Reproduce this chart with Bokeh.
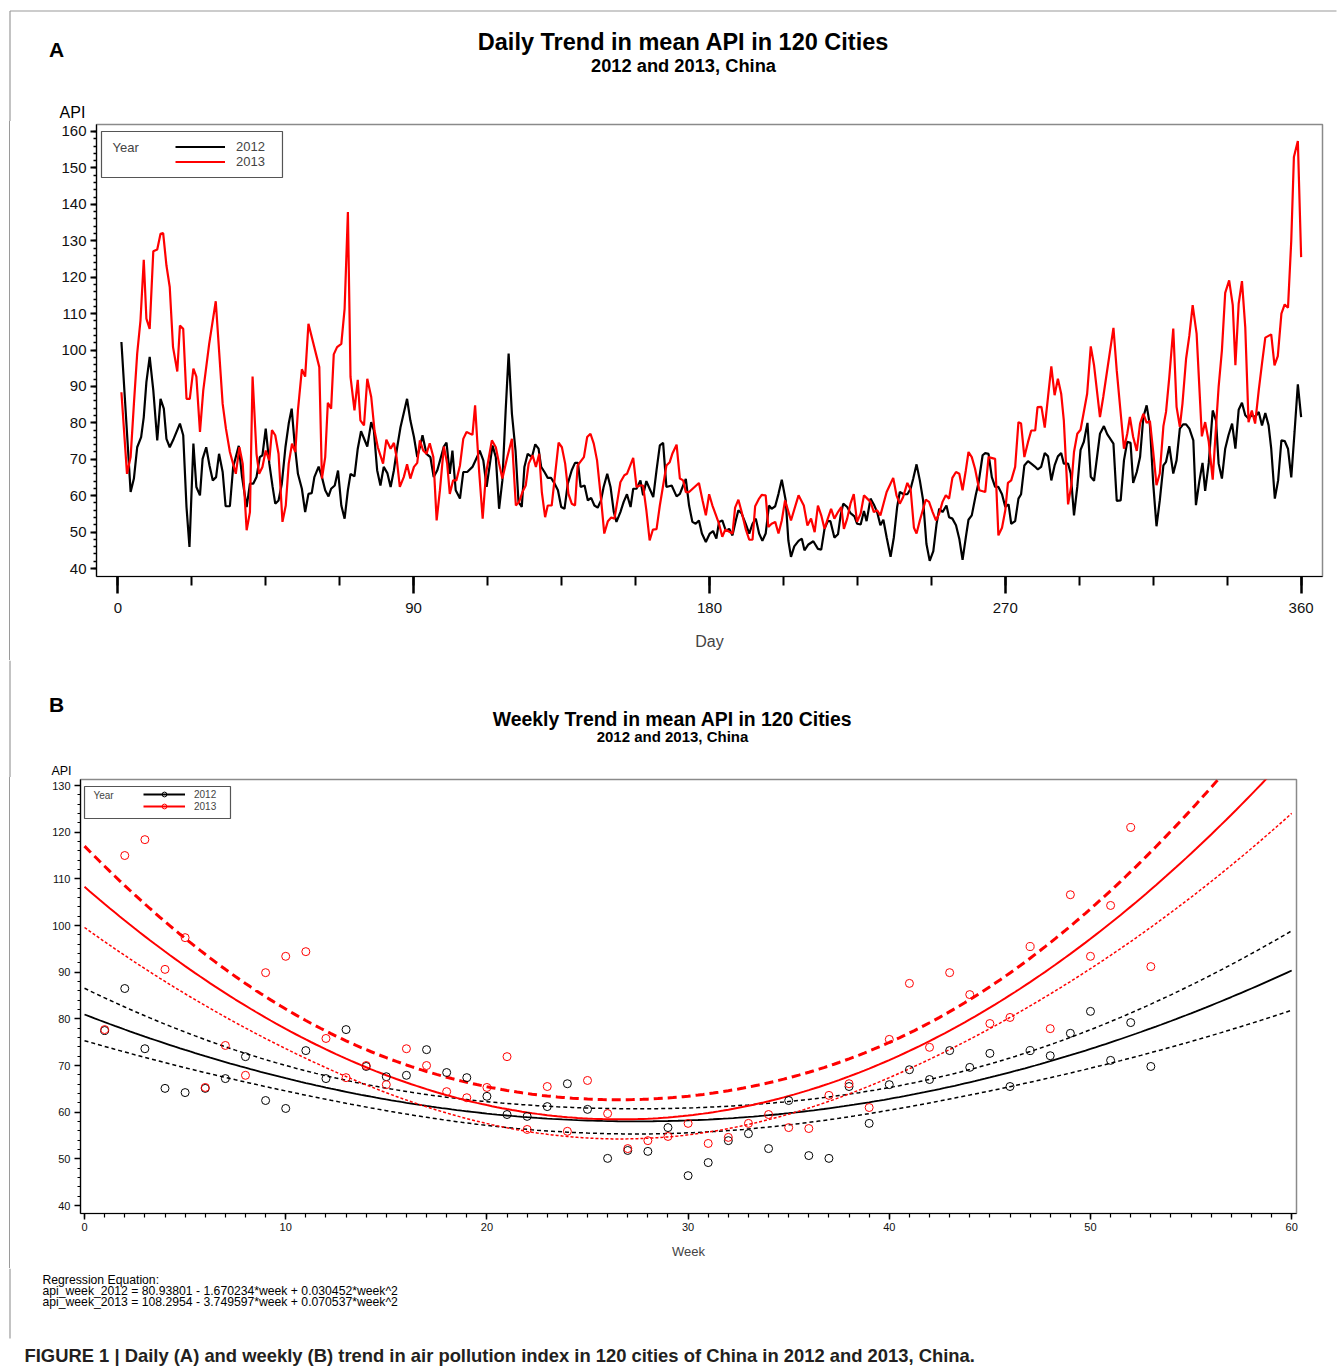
import numpy as np
from bokeh.plotting import figure
from bokeh.models import Range1d, FixedTicker, Label, Legend, LegendItem, BoxAnnotation
from bokeh.embed import file_html
from bokeh.resources import INLINE

FONT = "Liberation Sans"
FRAME_GRAY = "#9a9a9a"

# ---------------- Panel A data: daily mean API ----------------
day_2012 = [1.1, 3.9, 4.9, 5.9, 7.1, 7.9, 8.7, 9.7, 10.8, 12.0, 13.0, 14.0, 14.8, 15.8, 16.8, 18.9, 19.9, 20.9, 21.8, 23.0,
            23.9, 25.0, 25.8, 26.9, 27.9, 28.9, 29.9, 30.8, 31.9, 32.8, 34.1, 35.1, 36.8, 37.8, 39.2, 40.2, 41.2, 42.2, 43.2, 44.0,
            45.0, 46.1, 47.1, 47.9, 48.9, 49.9, 51.0, 52.0, 52.9, 53.8, 54.8, 56.0, 57.0, 58.0, 59.0, 59.8, 61.1, 62.1, 63.1, 64.1,
            64.9, 66.0, 67.0, 68.0, 69.0, 70.0, 70.8, 72.0, 73.0, 74.0, 75.9, 77.1, 77.9, 78.9, 79.9, 80.9, 82.0, 83.0, 84.0, 85.0,
            86.0, 88.0, 89.0, 90.1, 91.1, 91.9, 92.7, 93.9, 95.1, 96.1, 97.2, 99.2, 100.0, 101.0, 101.8, 102.8, 104.1, 105.1, 106.3, 107.9,
            109.3, 110.1, 111.2, 112.2, 114.0, 115.0, 116.0, 117.0, 118.0, 118.9, 119.9, 121.0, 121.9, 122.9, 123.7, 124.7, 126.0, 127.0, 128.0, 128.8,
            129.8, 130.8, 131.8, 132.9, 133.9, 134.9, 135.9, 136.9, 138.1, 139.1, 140.0, 140.8, 142.0, 143.0, 144.0, 145.0, 146.0, 147.0, 147.8, 148.9,
            149.9, 150.9, 151.7, 152.9, 153.9, 154.9, 156.0, 156.8, 157.8, 159.0, 159.8, 160.8, 161.8, 162.9, 163.9, 164.9, 165.9, 166.9, 168.5, 170.0,
            171.0, 172.0, 172.8, 173.8, 174.8, 175.8, 176.8, 177.7, 178.9, 180.1, 181.1, 182.1, 182.9, 183.9, 185.0, 186.0, 187.0, 188.0, 188.8, 189.8,
            191.0, 192.1, 193.1, 194.1, 195.1, 196.1, 197.1, 198.1, 198.9, 200.0, 201.0, 202.0, 203.2, 204.0, 204.8, 205.8, 207.1, 208.1, 208.9, 210.1,
            211.6, 213.0, 214.0, 215.0, 216.0, 216.8, 218.0, 219.1, 219.9, 220.7, 221.9, 222.9, 224.1, 224.9, 226.0, 227.0, 227.8, 229.0, 230.0, 231.0,
            232.0, 232.9, 233.9, 235.1, 236.1, 237.1, 237.9, 239.1, 240.2, 241.2, 242.0, 243.0, 244.0, 245.0, 246.0, 247.0, 248.1, 249.1, 249.9, 250.9,
            252.1, 252.9, 253.9, 255.0, 256.0, 257.0, 258.0, 258.8, 259.8, 261.0, 261.9, 263.1, 263.9, 264.9, 265.9, 266.9, 267.9, 269.0, 270.0, 271.0,
            271.8, 273.0, 274.0, 274.8, 275.8, 276.9, 277.9, 279.0, 279.9, 280.9, 282.0, 283.0, 284.0, 285.0, 286.0, 287.0, 287.8, 289.1, 289.9, 290.9,
            291.9, 292.9, 293.9, 295.0, 296.0, 297.0, 298.8, 300.0, 301.0, 302.9, 303.9, 305.1, 306.1, 307.1, 308.1, 308.9, 310.0, 311.0, 312.0, 313.0,
            314.0, 315.0, 316.0, 317.0, 318.1, 318.9, 319.9, 321.1, 322.1, 323.1, 324.1, 325.0, 326.0, 327.2, 328.0, 329.0, 330.0, 330.8, 331.9, 333.1,
            334.1, 334.9, 335.9, 336.9, 337.9, 339.0, 340.0, 341.0, 342.0, 343.0, 344.0, 345.0, 346.0, 347.1, 348.1, 349.1, 350.1, 350.9, 352.0, 353.0,
            354.0, 355.0, 356.0, 357.0, 358.0, 359.0, 360.0]
api_2012 = [102.2, 61.0, 64.7, 73.3, 76.1, 81.6, 91.2, 98.1, 88.9, 75.2, 86.6, 83.9, 75.6, 73.3, 75.2, 79.8, 76.6, 56.9, 45.9, 74.3,
            62.4, 60.1, 70.1, 73.3, 68.3, 64.2, 65.1, 71.5, 66.5, 57.1, 57.1, 67.9, 73.7, 65.1, 56.9, 63.3, 63.3, 65.1, 70.6, 71.1,
            78.4, 68.8, 62.4, 57.8, 58.7, 63.3, 73.3, 79.8, 83.9, 74.3, 66.0, 61.9, 55.5, 60.5, 60.7, 65.1, 68.0, 65.1, 61.5, 59.8,
            61.9, 62.8, 66.9, 57.3, 53.7, 61.5, 66.0, 65.3, 72.9, 77.7, 73.5, 80.2, 77.9, 67.0, 62.8, 67.9, 66.2, 62.4, 67.0, 73.3,
            78.8, 86.6, 80.7, 76.1, 70.6, 73.3, 76.6, 71.5, 70.6, 65.1, 67.0, 73.5, 74.6, 66.0, 72.4, 61.5, 59.2, 66.5, 66.5, 67.9,
            70.6, 72.4, 69.7, 62.4, 73.8, 70.6, 56.4, 64.2, 83.4, 99.0, 82.5, 72.4, 58.3, 56.9, 67.9, 71.5, 70.6, 74.1, 72.9, 67.9,
            66.5, 64.9, 64.9, 63.3, 61.5, 56.9, 56.4, 63.3, 67.0, 69.0, 69.0, 62.4, 62.8, 58.7, 59.4, 57.3, 56.7, 58.7, 62.4, 66.0,
            62.4, 55.5, 52.8, 55.5, 58.3, 60.4, 56.9, 61.9, 61.9, 64.2, 60.1, 64.0, 61.9, 59.6, 67.0, 73.8, 74.5, 62.4, 62.8, 59.8,
            60.5, 62.8, 64.6, 57.3, 52.8, 52.3, 53.2, 49.6, 47.3, 49.6, 50.3, 48.2, 52.8, 53.2, 50.3, 50.9, 49.1, 53.2, 56.0, 55.1,
            52.3, 49.6, 52.3, 53.7, 49.6, 47.6, 49.6, 57.3, 56.4, 57.1, 60.5, 64.4, 58.7, 47.7, 43.2, 46.1, 47.6, 48.2, 45.0, 46.6,
            47.5, 45.4, 45.2, 50.9, 53.0, 53.0, 48.5, 49.4, 54.6, 57.8, 56.9, 55.2, 54.3, 52.3, 52.1, 55.8, 53.0, 59.2, 57.6, 55.5,
            51.9, 53.4, 48.6, 43.2, 48.6, 56.9, 61.0, 60.4, 60.4, 61.9, 64.7, 68.6, 64.2, 58.7, 46.8, 42.1, 44.8, 52.3, 56.4, 55.5,
            57.3, 54.1, 53.7, 51.9, 48.2, 42.4, 48.6, 53.4, 54.6, 60.1, 63.7, 71.1, 71.7, 71.5, 65.1, 62.4, 62.4, 60.4, 56.9, 57.6,
            52.3, 53.0, 59.2, 60.4, 68.3, 69.5, 68.8, 68.0, 67.2, 67.9, 71.7, 70.8, 64.2, 68.3, 70.8, 71.7, 68.8, 68.8, 66.1, 54.6,
            62.4, 72.6, 74.8, 80.0, 65.2, 64.1, 77.0, 79.1, 76.9, 74.3, 58.6, 58.7, 69.7, 74.8, 74.5, 63.5, 66.5, 70.6, 81.6, 84.8,
            79.3, 63.3, 51.6, 58.7, 68.3, 69.3, 73.6, 66.1, 69.7, 78.4, 79.6, 79.6, 78.4, 75.2, 57.4, 63.8, 69.0, 61.3, 69.0, 83.4,
            80.7, 68.8, 64.7, 72.9, 76.6, 79.8, 72.9, 83.6, 85.5, 82.1, 81.2, 82.1, 81.6, 83.0, 79.3, 82.7, 79.3, 72.9, 59.2, 64.2,
            75.2, 75.0, 72.9, 65.0, 77.5, 90.6, 81.6]

day_2013 = [1.1, 2.8, 3.9, 4.9, 5.9, 6.9, 7.9, 8.7, 9.7, 10.8, 12.0, 13.0, 13.8, 14.8, 15.8, 16.8, 18.1, 18.9, 19.9, 20.9,
            21.9, 23.0, 23.9, 25.0, 26.0, 27.8, 29.8, 31.9, 32.9, 34.1, 35.9, 37.0, 38.0, 39.2, 40.2, 41.0, 42.2, 43.0, 44.0, 45.0,
            46.1, 46.9, 47.9, 48.9, 50.1, 51.1, 52.0, 53.0, 54.0, 54.8, 56.0, 57.0, 58.0, 61.3, 62.1, 63.1, 63.9, 64.9, 65.7, 66.7,
            68.0, 69.0, 70.0, 70.8, 72.0, 73.0, 73.8, 74.9, 75.9, 77.1, 78.1, 79.1, 80.7, 81.7, 83.0, 84.0, 84.8, 85.8, 87.0, 88.0,
            89.0, 90.1, 91.1, 91.9, 92.9, 93.9, 94.9, 96.0, 97.0, 98.0, 99.2, 100.2, 101.0, 102.0, 103.0, 104.1, 105.1, 106.1, 107.9, 108.7,
            109.9, 111.0, 112.0, 113.8, 115.0, 116.0, 117.0, 118.5, 119.9, 121.1, 122.1, 123.1, 124.1, 125.0, 126.2, 127.2, 128.2, 129.0, 130.0, 130.8,
            132.0, 134.1, 135.1, 136.1, 137.1, 138.1, 139.1, 139.9, 141.8, 142.8, 143.8, 144.8, 145.8, 147.0, 148.0, 149.1, 150.1, 151.1, 152.1, 152.9,
            154.1, 154.9, 156.8, 157.8, 158.8, 159.8, 160.8, 161.8, 162.8, 163.9, 164.9, 166.9, 167.9, 168.7, 170.0, 171.0, 172.0, 172.8, 173.8, 176.8,
            177.9, 178.9, 179.9, 180.9, 182.9, 183.9, 184.8, 187.0, 187.8, 188.8, 189.8, 191.0, 192.1, 193.1, 193.9, 195.1, 195.9, 197.1, 197.9, 198.9,
            200.0, 201.0, 202.0, 203.0, 204.8, 207.1, 208.7, 209.8, 210.9, 212.0, 213.0, 214.0, 215.0, 216.0, 217.0, 218.0, 219.1, 220.1, 220.9, 221.9,
            222.9, 223.9, 224.9, 226.0, 227.0, 228.0, 229.0, 230.0, 231.0, 232.0, 233.9, 235.9, 236.9, 237.9, 238.9, 240.2, 241.2, 242.2, 243.0, 244.0,
            245.8, 246.8, 247.9, 248.9, 249.9, 250.9, 251.9, 252.9, 253.9, 255.0, 256.0, 257.0, 258.0, 258.8, 259.8, 260.8, 262.1, 263.9, 264.9, 266.9,
            267.9, 269.0, 270.0, 270.8, 271.8, 273.0, 274.0, 274.8, 275.8, 276.9, 277.9, 279.1, 279.8, 281.0, 282.0, 283.0, 284.0, 285.0, 286.0, 287.0,
            287.8, 289.1, 290.1, 290.9, 291.9, 292.9, 294.9, 296.0, 297.0, 298.8, 299.8, 302.9, 303.9, 306.1, 307.1, 307.9, 308.9, 310.0, 311.0, 312.0,
            313.0, 314.0, 315.0, 316.0, 317.0, 318.1, 318.9, 319.9, 321.1, 322.1, 323.1, 323.9, 325.0, 326.0, 327.0, 328.2, 329.8, 330.8, 331.9, 333.1,
            334.1, 334.9, 335.9, 336.9, 338.1, 339.2, 340.0, 341.0, 342.0, 343.0, 344.0, 345.0, 346.0, 347.1, 348.1, 349.1, 350.9, 351.9, 352.9, 354.0,
            355.0, 356.0, 357.0, 357.8, 359.0, 360.0]
api_2013 = [88.4, 66.0, 70.6, 85.2, 99.0, 108.1, 124.8, 108.6, 105.8, 127.1, 127.6, 131.9, 132.1, 123.2, 117.3, 100.8, 94.1, 106.7, 105.8, 86.6,
            86.6, 94.9, 92.7, 77.5, 88.9, 101.7, 113.4, 85.2, 78.4, 72.0, 66.0, 73.3, 68.8, 50.5, 55.5, 92.7, 71.5, 66.0, 67.9, 72.4,
            69.7, 78.0, 76.6, 71.5, 52.8, 57.3, 68.8, 74.3, 72.0, 83.4, 94.7, 92.7, 107.2, 95.3, 64.7, 70.6, 85.5, 83.9, 98.8, 100.8,
            101.7, 111.3, 137.9, 92.6, 83.4, 91.8, 80.7, 79.3, 92.1, 87.1, 77.9, 73.3, 68.8, 75.4, 72.9, 74.5, 70.6, 62.4, 65.1, 68.6,
            64.7, 67.9, 69.0, 75.2, 72.4, 71.5, 74.4, 70.6, 53.2, 61.5, 73.5, 68.8, 60.5, 64.2, 64.2, 68.3, 75.6, 77.5, 76.7, 84.8,
            67.0, 53.7, 66.0, 75.2, 73.3, 68.8, 64.7, 70.6, 75.6, 57.3, 58.3, 61.0, 62.8, 68.8, 71.1, 67.9, 71.5, 61.0, 54.1, 57.3,
            57.3, 74.6, 73.3, 68.8, 60.5, 57.8, 57.3, 68.3, 70.6, 76.1, 77.0, 74.3, 69.7, 59.2, 49.6, 53.0, 54.0, 53.7, 59.2, 63.7,
            65.6, 66.0, 70.4, 62.4, 62.8, 62.8, 56.0, 47.7, 50.7, 50.8, 57.3, 68.3, 69.2, 71.5, 74.0, 64.7, 64.2, 61.0, 61.0, 63.5,
            58.7, 54.6, 60.4, 57.3, 52.3, 48.7, 50.7, 49.6, 56.7, 58.9, 55.5, 50.9, 47.9, 47.9, 57.1, 59.2, 60.2, 60.1, 51.4, 52.3,
            52.8, 49.6, 53.2, 58.7, 53.2, 60.1, 57.3, 51.8, 53.7, 50.0, 57.3, 54.6, 50.9, 53.7, 56.4, 53.7, 55.5, 56.9, 50.9, 53.7,
            57.8, 60.4, 52.8, 55.1, 60.1, 59.2, 58.3, 55.5, 56.0, 54.6, 61.0, 64.9, 60.1, 57.8, 59.6, 63.5, 61.7, 51.2, 49.6, 53.2,
            58.9, 58.3, 55.5, 53.2, 55.1, 58.3, 60.1, 59.2, 64.9, 66.5, 66.0, 61.5, 67.0, 72.0, 70.6, 67.4, 61.5, 61.0, 70.6, 70.1,
            49.1, 51.2, 56.0, 63.5, 64.2, 67.9, 80.2, 79.8, 70.6, 74.7, 77.9, 77.9, 84.3, 84.4, 78.7, 87.1, 95.5, 87.6, 92.1, 88.0,
            80.7, 57.6, 62.9, 72.0, 77.0, 78.1, 88.0, 101.0, 95.8, 81.6, 87.1, 106.1, 94.4, 72.9, 77.0, 81.6, 76.1, 72.3, 79.8, 82.5,
            80.0, 80.5, 72.0, 62.9, 66.1, 79.1, 83.0, 92.6, 105.9, 84.4, 78.9, 85.3, 97.6, 104.0, 112.3, 104.5, 76.3, 80.2, 74.8, 64.4,
            78.9, 89.9, 99.9, 115.7, 119.1, 112.3, 95.8, 112.7, 118.9, 106.3, 80.2, 83.4, 79.8, 88.9, 96.3, 103.4, 104.3, 95.8, 98.3, 110.0,
            112.5, 111.6, 130.1, 153.0, 157.4, 125.5]

day_ticks = [0, 90, 180, 270, 360]
day_minor_ticks = [0, 22.5, 45, 67.5, 90, 112.5, 135, 157.5, 180, 202.5, 225, 247.5, 270, 292.5, 315, 337.5, 360]
api_ticks_a = [40, 50, 60, 70, 80, 90, 100, 110, 120, 130, 140, 150, 160]
api_minor_a = list(range(40, 162, 2))

# ---------------- Panel B data: weekly mean API ----------------
weeks = list(range(1, 54))
week_api_2012 = [77.5, 86.5, 73.6, 65.1, 64.2, 65.1, 67.2, 71.9, 62.5, 60.8, 73.2, 67.2, 77.7, 69.8, 67.6, 67.9, 73.4, 68.5,
                 67.4, 63.4, 59.5, 59.1, 61.2, 66.1, 60.6, 50.1, 51.8, 51.6, 56.7, 46.4, 49.2, 53.9, 55.4, 52.2, 62.5, 50.7,
                 50.1, 65.5, 57.6, 65.9, 69.1, 67.0, 73.2, 69.6, 72.6, 65.5, 73.2, 72.1, 76.9, 81.6, 71.1, 79.2, 69.8]
week_api_2013 = [77.7, 115.0, 118.4, 90.6, 97.4, 65.3, 74.3, 67.9, 89.9, 93.4, 94.4, 75.8, 67.4, 70.0, 65.9, 73.6, 70.0, 64.4,
                 63.1, 65.3, 71.9, 56.3, 65.5, 55.9, 66.8, 59.7, 52.2, 53.9, 54.8, 57.6, 53.3, 54.6, 57.6, 59.5, 56.7, 56.5,
                 63.6, 66.1, 61.0, 75.6, 87.6, 73.9, 89.9, 85.2, 79.0, 80.3, 95.5, 77.9, 106.6, 93.4, 104.3, 121.0, 91.2]
# printed regression coefficients (intercept, week, week^2)
coef_2012 = [80.93801, -1.670234, 0.030452]
coef_2013 = [108.2954, -3.749597, 0.070537]
T975 = 2.009  # t quantile, 50 df

week_ticks = [0, 10, 20, 30, 40, 50, 60]
week_minor_ticks = list(range(0, 61))
api_ticks_b = [40, 50, 60, 70, 80, 90, 100, 110, 120, 130]
api_minor_b = list(range(40, 132, 2))

reg_lines = ["Regression Equation:",
             "api_week_2012 =  80.93801 - 1.670234*week + 0.030452*week^2",
             "api_week_2013 =  108.2954 - 3.749597*week + 0.070537*week^2"]
caption = ("FIGURE 1 | Daily (A) and weekly (B) trend in air pollution index in 120 cities of China "
           "in 2012 and 2013, China.")


def fit_band(coef, wk, vals, grid):
    wk = np.asarray(wk, float)
    vals = np.asarray(vals, float)
    X = np.column_stack([np.ones_like(wk), wk, wk ** 2])
    c = np.asarray(coef)
    resid = vals - X @ c
    s2 = np.sum(resid ** 2) / (len(wk) - 3)
    inv = np.linalg.inv(X.T @ X)
    G = np.column_stack([np.ones_like(grid), grid, grid ** 2])
    se = np.sqrt(s2 * np.einsum("ij,jk,ik->i", G, inv, G))
    yhat = G @ c
    return yhat, yhat - T975 * se, yhat + T975 * se


def style_axes(p, lab_size):
    for ax in (p.xaxis[0], p.yaxis[0]):
        ax.axis_line_color = "black"
        ax.axis_line_width = 1.2
        ax.major_tick_line_color = "black"
        ax.minor_tick_line_color = "black"
        ax.major_tick_in = 0
        ax.minor_tick_in = 0
        ax.major_label_text_font = FONT
        ax.major_label_text_font_size = lab_size
        ax.major_label_text_color = "#111111"
        ax.axis_label_text_font = FONT


PAGE_W = 1344
PANEL_STYLE = {"margin-left": "9px", "border-left": "1px solid " + FRAME_GRAY}


def text_fig(h):
    p = figure(width=PAGE_W, height=h, x_range=Range1d(0, PAGE_W), y_range=Range1d(h, 0),
               x_axis_type=None, y_axis_type=None, toolbar_location=None, output_backend="svg",
               min_border=0)
    p.outline_line_color = None
    p.grid.visible = False
    return p


def txt(p, x, y, text, size, bold=False, align="center", color="black"):
    p.add_layout(Label(x=x, y=y, text=text, text_font=FONT, text_font_size=size,
                       text_font_style="bold" if bold else "normal", text_align=align,
                       text_baseline="middle", text_color=color))


# ======================= Header A (page y 0..121) =======================
HA_H = 121
hA = text_fig(HA_H)
hA.segment(x0=[9.5, 9.5], y0=[10.5, 10.5], x1=[1336, 9.5], y1=[10.5, HA_H], line_color=FRAME_GRAY, line_width=1.2)
txt(hA, 56, 49, "A", "21px", bold=True)
txt(hA, 683, 41, "Daily Trend in mean API in 120 Cities", "23.5px", bold=True)
txt(hA, 683, 65, "2012 and 2013, China", "18.3px", bold=True)
txt(hA, 72, 112, "API", "16px")

# ======================= Panel A (page y 121..660) =======================
pA = figure(width=PAGE_W - 10, height=539, x_range=Range1d(-6.48, 366.5), y_range=Range1d(37.81, 161.92),
            output_backend="svg", toolbar_location=None, styles=PANEL_STYLE,
            min_border_left=86, min_border_right=22, min_border_top=3, min_border_bottom=84)
pA.grid.visible = False
pA.outline_line_color = "#8a8a8a"
pA.outline_line_width = 1.5
style_axes(pA, "15px")
pA.xaxis.ticker = FixedTicker(ticks=day_ticks, minor_ticks=day_minor_ticks)
pA.xaxis.major_tick_out = 17
pA.xaxis.minor_tick_out = 9
pA.xaxis.major_tick_line_width = 2.5
pA.xaxis.minor_tick_line_width = 2
pA.xaxis.major_label_standoff = 9
pA.xaxis.axis_label = "Day"
pA.xaxis.axis_label_text_font_size = "16px"
pA.xaxis.axis_label_text_font_style = "normal"
pA.xaxis.axis_label_standoff = 17
pA.yaxis.ticker = FixedTicker(ticks=api_ticks_a, minor_ticks=api_minor_a)
pA.yaxis.major_tick_out = 6
pA.yaxis.minor_tick_out = 3
pA.yaxis.major_tick_line_width = 2
pA.yaxis.minor_tick_line_width = 1.5
pA.yaxis.major_label_standoff = 4

rA12 = pA.line(day_2012, api_2012, line_color="black", line_width=2.2)
rA13 = pA.line(day_2013, api_2013, line_color="#ff0000", line_width=2.2)

# legend box (page 101,131 - 282,177)
pA.add_layout(BoxAnnotation(left=-4.96, right=50.1, top=160.0, bottom=147.37, fill_color="white", fill_alpha=1.0,
                            line_color="#555555", line_width=1.2, line_alpha=1.0))
pA.add_layout(Label(x=-1.61, y=155.6, text="Year", text_font=FONT, text_font_size="13px", text_align="left",
                    text_baseline="middle"))
legA = Legend(items=[LegendItem(label="2012", renderers=[rA12]), LegendItem(label="2013", renderers=[rA13])],
              location=(79, 407.5), padding=0, spacing=0, margin=0,
              glyph_width=50, glyph_height=15, label_height=15, label_standoff=11,
              label_text_font=FONT, label_text_font_size="13px",
              border_line_alpha=0, background_fill_alpha=0)
pA.add_layout(legA)

# ======================= Header B (page y 660..777) =======================
hB = text_fig(117)
hB.segment(x0=[9.5], y0=[0], x1=[9.5], y1=[117], line_color=FRAME_GRAY, line_width=1.2)
txt(hB, 56, 704 - 660, "B", "21px", bold=True)
txt(hB, 672, 718 - 660, "Weekly Trend in mean API in 120 Cities", "19.4px", bold=True)
txt(hB, 672, 736 - 660, "2012 and 2013, China", "15px", bold=True)
txt(hB, 61, 770 - 660, "API", "12.5px")

# ======================= Panel B (page y 777..1268) =======================
pB = figure(width=PAGE_W - 10, height=491, x_range=Range1d(-0.2, 60.24), y_range=Range1d(38.29, 131.29),
            output_backend="svg", toolbar_location=None, styles=PANEL_STYLE,
            min_border_left=70, min_border_right=48, min_border_top=2, min_border_bottom=55)
pB.grid.visible = False
pB.outline_line_color = "#8a8a8a"
pB.outline_line_width = 1.5
style_axes(pB, "11px")
pB.xaxis.ticker = FixedTicker(ticks=week_ticks, minor_ticks=week_minor_ticks)
pB.xaxis.major_tick_out = 6
pB.xaxis.minor_tick_out = 4
pB.xaxis.major_tick_line_width = 1.5
pB.xaxis.minor_tick_line_width = 1.2
pB.xaxis.major_label_standoff = 3
pB.xaxis.axis_label = "Week"
pB.xaxis.axis_label_text_font_size = "13px"
pB.xaxis.axis_label_text_font_style = "normal"
pB.xaxis.axis_label_standoff = 10
pB.yaxis.ticker = FixedTicker(ticks=api_ticks_b, minor_ticks=api_minor_b)
pB.yaxis.major_tick_out = 6
pB.yaxis.minor_tick_out = 3
pB.yaxis.major_tick_line_width = 1.5
pB.yaxis.minor_tick_line_width = 1.2
pB.yaxis.major_label_standoff = 4

grid = np.linspace(0, 60, 241)
f12, lo12, hi12 = fit_band(coef_2012, weeks, week_api_2012, grid)
f13, lo13, hi13 = fit_band(coef_2013, weeks, week_api_2013, grid)

pB.line(grid, hi12, line_color="black", line_width=1.5, line_dash="4 3")
pB.line(grid, lo12, line_color="black", line_width=1.5, line_dash="4 3")
rB12 = pB.line(grid, f12, line_color="black", line_width=1.8)
pB.line(grid, hi13, line_color="#ff0000", line_width=3, line_dash="9 5")
pB.line(grid, lo13, line_color="#ff0000", line_width=1.5, line_dash="3 2")
rB13 = pB.line(grid, f13, line_color="#ff0000", line_width=2)
sB12 = pB.scatter(weeks, week_api_2012, marker="circle", size=8, fill_color=None, line_color="black", line_width=1)
sB13 = pB.scatter(weeks, week_api_2013, marker="circle", size=8, fill_color=None, line_color="#ff0000", line_width=1)

# legend box (page 84,786 - 230,818)
pB.add_layout(BoxAnnotation(left=0.0, right=7.255, top=129.79, bottom=122.93, fill_color="white", fill_alpha=1.0,
                            line_color="#555555", line_width=1.2, line_alpha=1.0))
pB.add_layout(Label(x=0.446, y=127.86, text="Year", text_font=FONT, text_font_size="10px", text_align="left",
                    text_baseline="middle"))
legB = Legend(items=[LegendItem(label="2012", renderers=[rB12, sB12]), LegendItem(label="2013", renderers=[rB13, sB13])],
              location=(63, 401), padding=0, spacing=0, margin=0,
              glyph_width=42, glyph_height=12, label_height=12, label_standoff=9,
              label_text_font=FONT, label_text_font_size="10px",
              border_line_alpha=0, background_fill_alpha=0)
pB.add_layout(legB)

# ======================= Footer (page y 1268..1367) =======================
ft = text_fig(99)
ft.segment(x0=[9.5], y0=[0], x1=[9.5], y1=[70], line_color=FRAME_GRAY, line_width=1.2)
for i, line in enumerate(reg_lines):
    txt(ft, 42, 1279 - 1268 + 11 * i, line, "12.2px", align="left")
txt(ft, 24, 1355 - 1268, caption, "18.4px", bold=True, align="left", color="#231f20")

open("out.html", "w").write(file_html([hA, pA, hB, pB, ft], INLINE))
